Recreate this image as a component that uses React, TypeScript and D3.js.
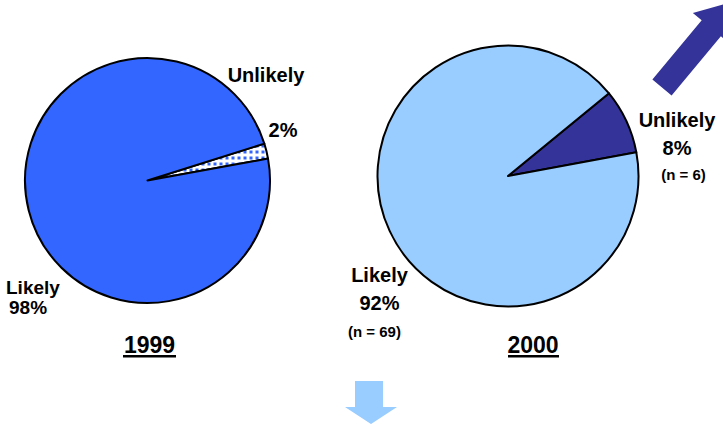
import React from "react";
import * as d3 from "d3";

const categories = ["Unlikely", "Likely"];
const values1999 = [2, 98];
const values2000 = [8, 92];
const counts2000 = [6, 69];
const years = ["1999", "2000"];

const W = 723;
const H = 425;
const deg = Math.PI / 180;

function Pie({ values, cx, cy, r, start, colors }: { values: number[]; cx: number; cy: number; r: number; start: number; colors: string[] }) {
  const arcs = d3.pie<number>().sort(null).value((d) => d).startAngle(start * deg).endAngle(start * deg + 2 * Math.PI)(values);
  const arc = d3.arc<d3.PieArcDatum<number>>().innerRadius(0).outerRadius(r);
  return (
    <g transform={`translate(${cx},${cy})`}>
      {arcs.map((a, i) => (
        <path key={i} d={arc(a) || ""} fill={colors[i]} stroke="#000" strokeWidth={2} strokeLinejoin="round" />
      ))}
    </g>
  );
}

export default function App() {
  const font = "'Liberation Sans', Arial, sans-serif";
  const lbl = { fontFamily: font, fontWeight: 700, fill: "#000" } as const;
  return (
    <div style={{ position: "absolute", left: 0, top: 0, width: W, height: H, background: "#fff" }}>
      <svg width={W} height={H} viewBox={`0 0 ${W} ${H}`} style={{ display: "block" }}>
        <defs>
          <pattern id="dots" width="6" height="6" patternUnits="userSpaceOnUse">
            <rect width="6" height="6" fill="#fff" />
            <rect x="0" y="0" width="3" height="3" fill="#3366ff" />
          </pattern>
        </defs>
        <rect width={W} height={H} fill="#fff" />
        <Pie values={values1999} cx={147.5} cy={180.5} r={122.5} start={72.5} colors={["url(#dots)", "#3366ff"]} />
        <Pie values={values2000} cx={508} cy={176} r={130.5} start={50.7} colors={["#333399", "#99ccff"]} />

        {/* 1999 labels */}
        <text x={266} y={82} textAnchor="middle" fontSize={20} style={lbl}>{categories[0]}</text>
        <text x={283} y={137} textAnchor="middle" fontSize={20} style={lbl}>{values1999[0]}%</text>
        <text x={6} y={294} fontSize={19} style={lbl}>{categories[1]}</text>
        <text x={9} y={314} fontSize={19} style={lbl}>{values1999[1]}%</text>
        <text x={149.5} y={353} textAnchor="middle" fontSize={23} style={lbl}>{years[0]}</text>
        <rect x={123} y={355} width={53} height={2.5} fill="#000" />

        {/* 2000 labels */}
        <text x={677} y={127} textAnchor="middle" fontSize={20} style={lbl}>{categories[0]}</text>
        <text x={677} y={155} textAnchor="middle" fontSize={20} style={lbl}>{values2000[0]}%</text>
        <text x={683.5} y={180} textAnchor="middle" fontSize={15} style={lbl}>(n = {counts2000[0]})</text>
        <text x={379.5} y={282} textAnchor="middle" fontSize={20} style={lbl}>{categories[1]}</text>
        <text x={379.5} y={310} textAnchor="middle" fontSize={20} style={lbl}>{values2000[1]}%</text>
        <text x={374.5} y={337} textAnchor="middle" fontSize={15} style={lbl}>(n = {counts2000[1]})</text>
        <text x={533} y={353} textAnchor="middle" fontSize={23} style={lbl}>{years[1]}</text>
        <rect x={508} y={355} width={51} height={2.5} fill="#000" />

        {/* arrows */}
        <g transform="translate(662,87.5) rotate(-50.2)">
          <polygon points="0,-12.5 77,-12.5 77,-24 112,0 77,24 77,12.5 0,12.5" fill="#333399" />
        </g>
        <polygon points="355,381 383,381 383,407 397,407 371,424 345,407 355,407" fill="#99ccff" />
      </svg>
    </div>
  );
}
